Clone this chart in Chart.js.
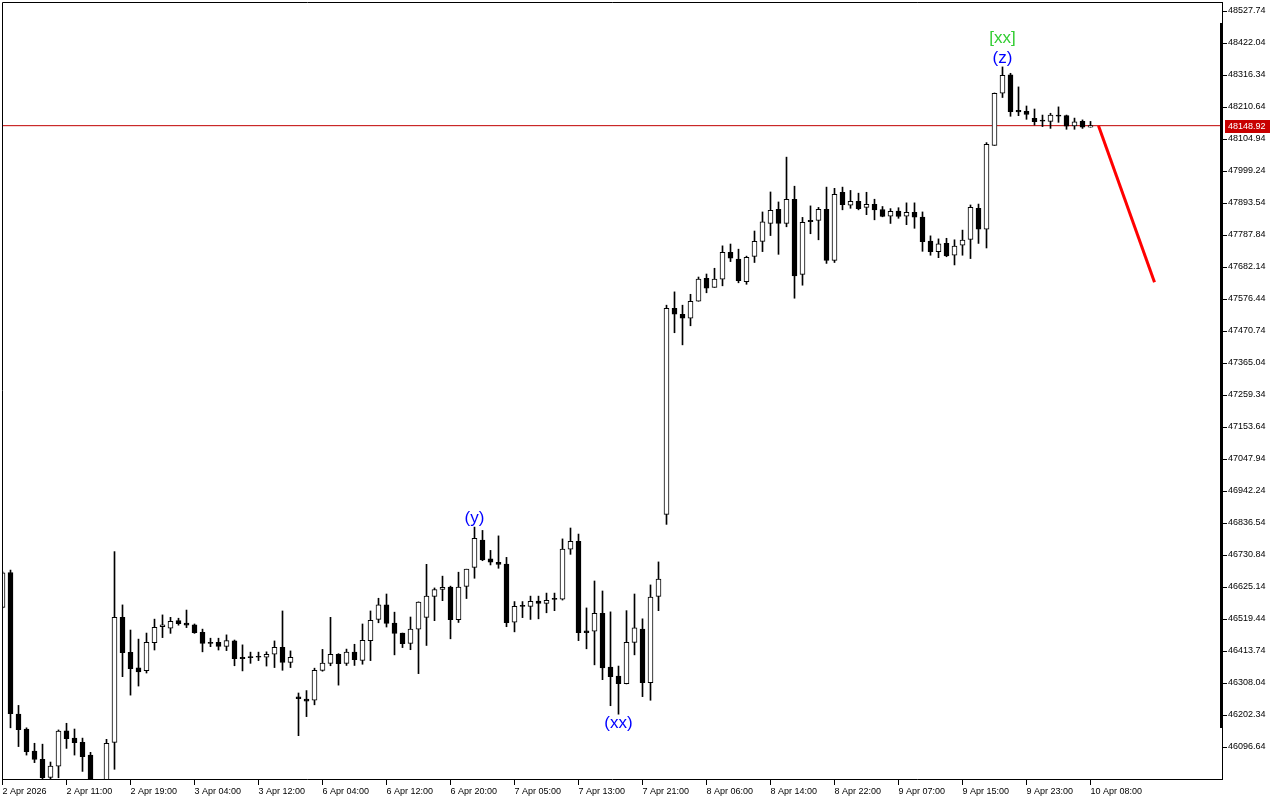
<!DOCTYPE html>
<html>
<head>
<meta charset="utf-8">
<script src="https://cdn.jsdelivr.net/npm/chart.js@4.4.1/dist/chart.umd.min.js"></script>
<style>
  html, body { margin: 0; padding: 0; background: #fff; }
  #wrap { width: 1280px; height: 800px; }
</style>
</head>
<body>
<div id="wrap"><canvas id="chart" width="1280" height="800"></canvas></div>
<script>
// H1 candles (index 0 = 2 Apr 2026 00:00)
const OPEN = [
  46558, 46673, 46205, 46156, 46083, 46056, 45996, 46033, 46150, 46126,
  46112, 46070, 45960, 45955, 46112, 46525, 46409, 46358, 46349, 46441,
  46494, 46489, 46514, 46506, 46500, 46475, 46441, 46442, 46429, 46447,
  46393, 46392, 46393, 46393, 46403, 46426, 46376, 46262, 46255, 46251,
  46350, 46373, 46403, 46373, 46410, 46383, 46448, 46518, 46566, 46506,
  46473, 46439, 46486, 46525, 46594, 46617, 46625, 46517, 46627, 46690,
  46780, 46718, 46707, 46701, 46509, 46561, 46561, 46579, 46571, 46588,
  46585, 46750, 46776, 46480, 46479, 46538, 46361, 46331, 46306, 46442,
  46486, 46309, 46594, 46865, 47546, 47526, 47513, 47569, 47645, 47615,
  47642, 47731, 47708, 47634, 47717, 47767, 47826, 47873, 47826, 47906,
  47658, 47836, 47836, 47873, 47704, 47929, 47886, 47899, 47879, 47889,
  47872, 47850, 47867, 47850, 47863, 47847, 47768, 47733, 47760, 47721,
  47754, 47773, 47876, 47807, 48084, 48256, 48317, 48200, 48196, 48173,
  48164, 48163, 48184, 48182, 48148, 48163, 48144
];
const HIGH = [
  46675, 46681, 46234, 46160, 46109, 46106, 46047, 46153, 46175, 46156,
  46126, 46079, 45975, 46122, 46742, 46566, 46483, 46453, 46473, 46519,
  46533, 46525, 46522, 46549, 46503, 46486, 46456, 46456, 46467, 46450,
  46434, 46410, 46410, 46411, 46447, 46546, 46414, 46275, 46283, 46357,
  46419, 46525, 46405, 46420, 46436, 46503, 46546, 46588, 46602, 46542,
  46473, 46526, 46576, 46700, 46622, 46661, 46628, 46674, 46684, 46823,
  46812, 46746, 46794, 46723, 46577, 46577, 46595, 46595, 46605, 46605,
  46784, 46820, 46800, 46556, 46645, 46612, 46543, 46364, 46547, 46602,
  46520, 46632, 46708, 47556, 47600, 47556, 47592, 47649, 47659, 47678,
  47752, 47758, 47741, 47718, 47801, 47864, 47930, 47897, 48045, 47949,
  47846, 47884, 47879, 47946, 47942, 47946, 47935, 47926, 47929, 47906,
  47882, 47875, 47878, 47894, 47894, 47864, 47785, 47775, 47777, 47772,
  47804, 47887, 47890, 48093, 48257, 48343, 48322, 48277, 48214, 48204,
  48184, 48190, 48211, 48184, 48174, 48168, 48163
];
const LOW = [
  46556, 46160, 46098, 46070, 46045, 45988, 45991, 45995, 46092, 46070,
  46016, 45922, 45900, 45930, 46023, 46329, 46268, 46298, 46341, 46417,
  46458, 46472, 46499, 46491, 46472, 46411, 46428, 46417, 46415, 46365,
  46348, 46373, 46382, 46364, 46359, 46350, 46359, 46134, 46197, 46236,
  46347, 46365, 46301, 46366, 46366, 46370, 46382, 46507, 46493, 46401,
  46425, 46418, 46339, 46432, 46514, 46580, 46454, 46508, 46587, 46654,
  46712, 46698, 46687, 46494, 46477, 46524, 46518, 46520, 46540, 46547,
  46582, 46733, 46448, 46421, 46368, 46319, 46233, 46205, 46305, 46401,
  46263, 46251, 46547, 46832, 47465, 47425, 47488, 47569, 47597, 47615,
  47620, 47700, 47630, 47625, 47697, 47733, 47786, 47724, 47815, 47579,
  47622, 47792, 47772, 47694, 47697, 47871, 47876, 47871, 47855, 47838,
  47848, 47826, 47843, 47822, 47810, 47734, 47721, 47713, 47716, 47689,
  47721, 47710, 47760, 47745, 48084, 48242, 48180, 48182, 48170, 48151,
  48146, 48140, 48160, 48137, 48137, 48140, 48144
];
const CLOSE = [
  46672, 46207, 46154, 46081, 46056, 45995, 46034, 46149, 46124, 46111,
  46065, 45955, 45930, 46109, 46525, 46408, 46355, 46345, 46442, 46492,
  46500, 46512, 46504, 46499, 46474, 46439, 46439, 46429, 46448, 46388,
  46388, 46392, 46393, 46403, 46426, 46376, 46393, 46256, 46248, 46350,
  46374, 46403, 46372, 46410, 46385, 46449, 46515, 46566, 46505, 46472,
  46438, 46486, 46575, 46595, 46617, 46624, 46517, 46625, 46684, 46786,
  46715, 46707, 46700, 46507, 46561, 46561, 46578, 46571, 46581, 46584,
  46750, 46776, 46474, 46474, 46538, 46358, 46329, 46306, 46442, 46490,
  46309, 46592, 46651, 47546, 47526, 47513, 47569, 47642, 47612, 47642,
  47731, 47711, 47637, 47714, 47767, 47831, 47869, 47826, 47906, 47653,
  47830, 47832, 47873, 47704, 47922, 47888, 47899, 47875, 47889, 47871,
  47849, 47866, 47849, 47863, 47847, 47766, 47733, 47759, 47719, 47751,
  47771, 47879, 47807, 48087, 48256, 48315, 48195, 48194, 48186, 48162,
  48164, 48184, 48180, 48147, 48162, 48144, 48148.92
];

// one label every 8 bars
const TIME_LABELS = [
  "2 Apr 2026", "2 Apr 11:00", "2 Apr 19:00", "3 Apr 04:00", "3 Apr 12:00",
  "6 Apr 04:00", "6 Apr 12:00", "6 Apr 20:00", "7 Apr 05:00", "7 Apr 13:00",
  "7 Apr 21:00", "8 Apr 06:00", "8 Apr 14:00", "8 Apr 22:00", "9 Apr 07:00",
  "9 Apr 15:00", "9 Apr 23:00", "10 Apr 08:00"
];
const LABEL_STEP = 8;

const PRICE_TICKS = [
  46096.64, 46202.34, 46308.04, 46413.74, 46519.44, 46625.14, 46730.84, 46836.54,
  46942.24, 47047.94, 47153.64, 47259.34, 47365.04, 47470.74, 47576.44, 47682.14,
  47787.84, 47893.54, 47999.24, 48104.94, 48210.64, 48316.34, 48422.04, 48527.74
];
const PRICE_MIN = 45990.94;
const PRICE_MAX = 48557.47;
const CURRENT_PRICE = 48148.92;

// wave marks: text, bar index, price, colour
const WAVE_TEXT = ["[xx]", "(z)", "(y)", "(xx)"];
const WAVE_BAR = [125, 125, 59, 77];
const WAVE_PRICE = [48438, 48372, 46853, 46176];
const WAVE_COLOR = ["#32cd32", "#0000ff", "#0000ff", "#0000ff"];

// projected move
const FORECAST_X = [137, 144];
const FORECAST_Y = [48148.92, 47632];

const X_MIN = -0.0625;
const X_MAX = 152.4375;

const FONT = "'Liberation Sans', Arial, sans-serif";

const bodies = OPEN.map((o, i) => ({ x: i, y: [o, CLOSE[i]] }));
const wicks = LOW.map((l, i) => ({ x: i, y: [l, HIGH[i]] }));
const bodyFill = OPEN.map((o, i) => (CLOSE[i] > o ? "#ffffff" : "#000000"));

const frame = {
  id: "frame",
  afterDraw(chart) {
    const { ctx, chartArea: a, scales } = chart;
    ctx.save();
    ctx.strokeStyle = "#000";
    ctx.lineWidth = 1;
    ctx.beginPath();
    ctx.moveTo(a.left + 0.5, a.bottom);
    ctx.lineTo(a.left + 0.5, a.top + 0.5);
    ctx.lineTo(a.right, a.top + 0.5);
    ctx.stroke();
    // thick part of the right edge
    ctx.fillStyle = "#000";
    ctx.fillRect(a.right - 2, 23, 3, 705);

    // current price tag
    const y = Math.round(scales.y.getPixelForValue(CURRENT_PRICE));
    ctx.fillStyle = "#c80000";
    ctx.fillRect(a.right + 3, y - 6, 45, 13);
    ctx.fillStyle = "#fff";
    ctx.font = "9px " + FONT;
    ctx.textBaseline = "middle";
    ctx.textAlign = "left";
    ctx.fillText(CURRENT_PRICE.toFixed(2), a.right + 6, y + 0.5);
    ctx.restore();
  },
  afterDatasetsDraw(chart) {
    const { ctx, scales } = chart;
    ctx.save();
    ctx.font = "17px " + FONT;
    ctx.textAlign = "center";
    ctx.textBaseline = "middle";
    WAVE_TEXT.forEach((t, i) => {
      ctx.fillStyle = WAVE_COLOR[i];
      ctx.fillText(t, scales.x.getPixelForValue(WAVE_BAR[i]), scales.y.getPixelForValue(WAVE_PRICE[i]));
    });
    ctx.restore();
  }
};

new Chart(document.getElementById("chart"), {
  type: "bar",
  data: {
    datasets: [
      {
        label: "forecast",
        type: "line",
        data: FORECAST_X.map((x, i) => ({ x, y: FORECAST_Y[i] })),
        borderColor: "#ff0000",
        borderWidth: 3,
        pointRadius: 0,
        order: 0,
      },
      {
        label: "body",
        data: bodies,
        backgroundColor: bodyFill,
        borderColor: "#000",
        borderWidth: 1,
        borderSkipped: false,
        barThickness: 5,
        minBarLength: 1,
        grouped: false,
        order: 1,
      },
      {
        label: "wick",
        data: wicks,
        backgroundColor: "#000",
        borderWidth: 0,
        barThickness: 1,
        grouped: false,
        order: 2,
      },
      {
        label: "price",
        type: "line",
        data: [{ x: X_MIN, y: CURRENT_PRICE }, { x: X_MAX, y: CURRENT_PRICE }],
        borderColor: "#c00000",
        borderWidth: 1,
        pointRadius: 0,
        order: 3,
      },
    ],
  },
  options: {
    responsive: false,
    animation: false,
    devicePixelRatio: 1,
    layout: { padding: { left: 2, top: 2, right: 0, bottom: 0 } },
    plugins: { legend: { display: false }, tooltip: { enabled: false } },
    scales: {
      x: {
        type: "linear",
        min: X_MIN,
        max: X_MAX,
        offset: false,
        grid: { drawOnChartArea: false, drawTicks: true, tickLength: 6, color: "#000", offset: false },
        border: { display: true, color: "#000", width: 1 },
        ticks: {
          autoSkip: false,
          maxRotation: 0,
          align: "start",
          padding: 1,
          color: "#000",
          font: { family: FONT, size: 9 },
          callback: (v) => TIME_LABELS[Math.round(v / LABEL_STEP)] ?? "",
        },
        afterBuildTicks: (s) => { s.ticks = TIME_LABELS.map((_, j) => ({ value: j * LABEL_STEP })); },
        afterFit: (s) => { s.height = 21; s.paddingLeft = 0; s.paddingRight = 0; },
      },
      y: {
        type: "linear",
        position: "right",
        min: PRICE_MIN,
        max: PRICE_MAX,
        grid: { drawOnChartArea: false, drawTicks: true, tickLength: 5, color: "#000" },
        border: { display: true, color: "#000", width: 1 },
        ticks: {
          padding: 1,
          crossAlign: "near",
          color: "#000",
          font: { family: FONT, size: 9 },
          callback: (v) => Number(v).toFixed(2),
        },
        afterBuildTicks: (s) => { s.ticks = PRICE_TICKS.map((v) => ({ value: v })); },
        afterFit: (s) => { s.width = 58; s.paddingTop = 0; s.paddingBottom = 0; },
      },
    },
  },
  plugins: [frame],
});
</script>
</body>
</html>
